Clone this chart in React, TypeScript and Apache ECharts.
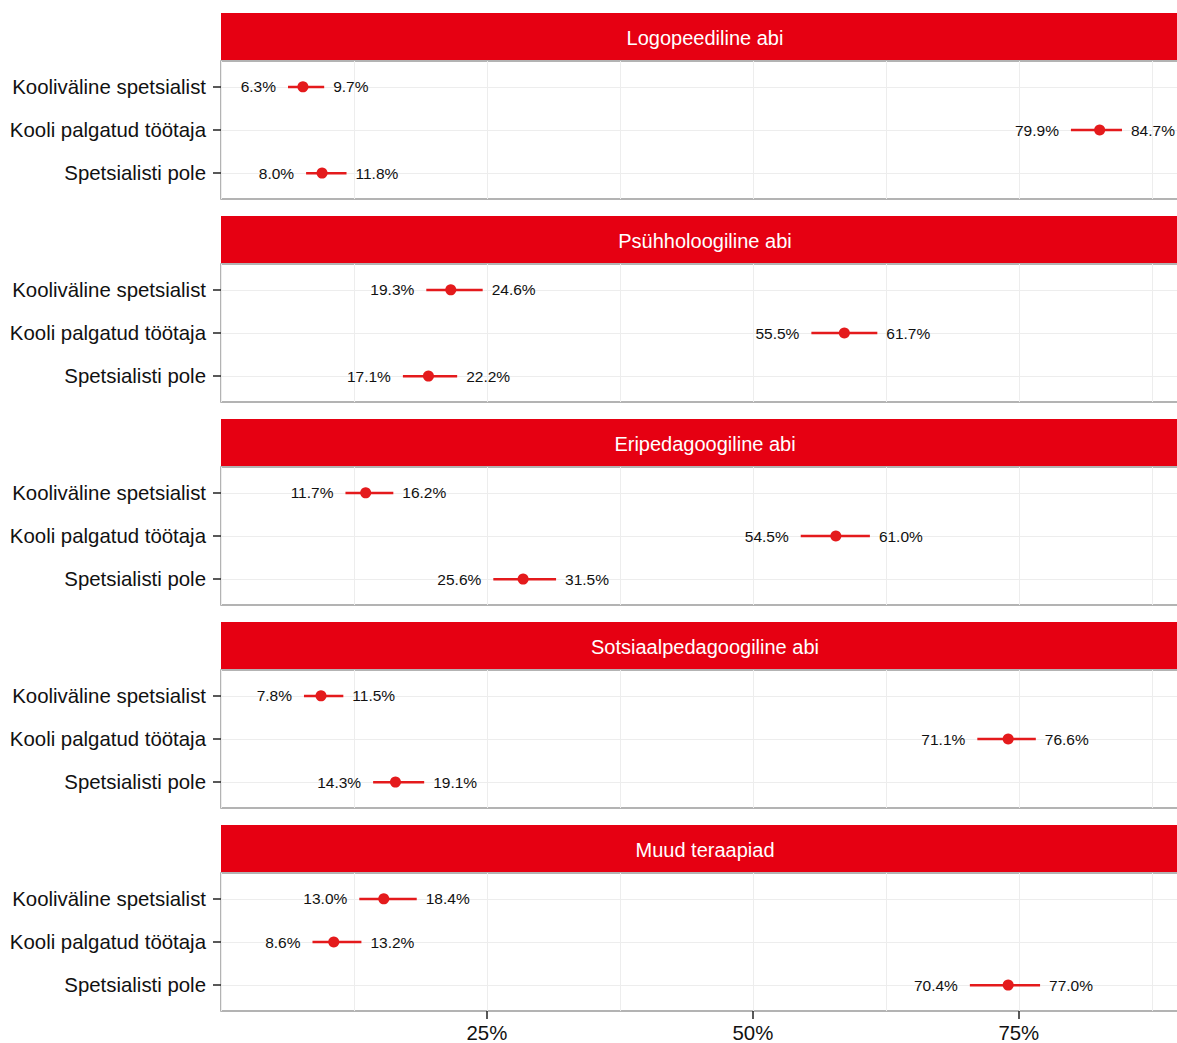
import React, { useEffect, useRef } from "react";
import * as echarts from "echarts";

const PANELS = [
  "Logopeediline abi",
  "Psühholoogiline abi",
  "Eripedagoogiline abi",
  "Sotsiaalpedagoogiline abi",
  "Muud teraapiad",
];
const CATEGORIES = ["Kooliväline spetsialist", "Kooli palgatud töötaja", "Spetsialisti pole"];
const LOWER = [
  [6.3, 79.9, 8.0],
  [19.3, 55.5, 17.1],
  [11.7, 54.5, 25.6],
  [7.8, 71.1, 14.3],
  [13.0, 8.6, 70.4],
];
const UPPER = [
  [9.7, 84.7, 11.8],
  [24.6, 61.7, 22.2],
  [16.2, 61.0, 31.5],
  [11.5, 76.6, 19.1],
  [18.4, 13.2, 77.0],
];
const ESTIMATE = [
  [7.7, 82.6, 9.5],
  [21.6, 58.6, 19.5],
  [13.6, 57.8, 28.4],
  [9.4, 74.0, 16.4],
  [15.3, 10.6, 74.0],
];
const X_TICKS = [25, 50, 75];

const RED = "#E41A1C";
const STRIP = "#E60012";
const FONT = "'Liberation Sans', Arial, sans-serif";
const GRID_LEFT = 221;
const GRID_WIDTH = 968;
const STRIP_TOP = 13;
const STRIP_H = 47;
const BODY_TOP = 61;
const BODY_H = 138;
const STEP = 203;
const X_MAX = 91;

export default function App() {
  const ref = useRef<HTMLDivElement>(null);
  useEffect(() => {
    document.body.style.margin = "0";
    const chart = echarts.init(ref.current!, null, { renderer: "svg" });
    const grid: any[] = [];
    const xAxis: any[] = [];
    const yAxis: any[] = [];
    const series: any[] = [];
    const graphic: any[] = [];
    PANELS.forEach((name, i) => {
      grid.push({
        left: GRID_LEFT,
        top: BODY_TOP + STEP * i,
        width: GRID_WIDTH,
        height: BODY_H,
        outerBoundsMode: "none",
        containLabel: false,
        show: true,
        borderColor: "#9a9a9a",
        borderWidth: 1.5,
        backgroundColor: "#fff",
      });
      xAxis.push({
        type: "value",
        gridIndex: i,
        min: 0,
        max: X_MAX,
        interval: 12.5,
        axisLine: { show: false },
        axisTick: { show: false },
        axisLabel: { show: false },
        splitLine: { show: true, lineStyle: { color: "#EDEDED", width: 1 } },
      });
      yAxis.push({
        type: "value",
        gridIndex: i,
        inverse: true,
        min: 0.4,
        max: 3.6,
        axisLine: { show: false },
        axisTick: {
          show: true,
          customValues: [1, 2, 3],
          length: 8,
          lineStyle: { color: "#222", width: 1.5 },
        },
        axisLabel: {
          customValues: [1, 2, 3],
          formatter: (v: number) => CATEGORIES[Math.round(v) - 1] ?? "",
          fontSize: 20.4,
          color: "#111",
          fontFamily: FONT,
          margin: 15,
        },
        splitLine: { show: true, lineStyle: { color: "#EDEDED", width: 1 } },
      });
      const errData = CATEGORIES.map((_, j) => [LOWER[i][j], UPPER[i][j], j + 1]);
      series.push({
        type: "custom",
        xAxisIndex: i,
        yAxisIndex: i,
        data: errData,
        encode: { x: [0, 1], y: 2 },
        clip: false,
        z: 3,
        renderItem: (params: any, api: any) => {
          const lo = api.value(0);
          const hi = api.value(1);
          const y = api.value(2);
          const p1 = api.coord([lo, y]);
          const p2 = api.coord([hi, y]);
          return {
            type: "group",
            children: [
              {
                type: "line",
                shape: { x1: p1[0], y1: p1[1], x2: p2[0], y2: p2[1] },
                style: { stroke: RED, lineWidth: 2.5 },
              },
              {
                type: "text",
                x: p1[0] - 12,
                y: p1[1],
                style: {
                  text: lo.toFixed(1) + "%",
                  align: "right",
                  verticalAlign: "middle",
                  fontSize: 15.5,
                  fontFamily: FONT,
                  fill: "#111",
                },
              },
              {
                type: "text",
                x: p2[0] + 9,
                y: p2[1],
                style: {
                  text: hi.toFixed(1) + "%",
                  align: "left",
                  verticalAlign: "middle",
                  fontSize: 15.5,
                  fontFamily: FONT,
                  fill: "#111",
                },
              },
            ],
          };
        },
      });
      series.push({
        type: "scatter",
        xAxisIndex: i,
        yAxisIndex: i,
        data: CATEGORIES.map((_, j) => [ESTIMATE[i][j], j + 1]),
        symbol: "circle",
        symbolSize: 11,
        itemStyle: { color: RED, opacity: 1 },
        z: 4,
      });
      graphic.push({
        type: "rect",
        shape: { x: GRID_LEFT, y: STRIP_TOP + STEP * i, width: GRID_WIDTH, height: STRIP_H },
        style: { fill: STRIP },
        z: 10,
      });
      graphic.push({
        type: "text",
        x: GRID_LEFT + GRID_WIDTH / 2,
        y: STRIP_TOP + STEP * i + STRIP_H / 2 + 1,
        style: {
          text: name,
          align: "center",
          verticalAlign: "middle",
          fontSize: 20,
          fontFamily: FONT,
          fill: "#fff",
        },
        z: 11,
      });
    });
    xAxis.push({
      type: "value",
      gridIndex: PANELS.length - 1,
      min: 0,
      max: X_MAX,
      interval: 25,
      position: "bottom",
      axisLine: { show: false },
      axisTick: {
        show: true,
        customValues: X_TICKS,
        length: 8,
        lineStyle: { color: "#222", width: 1.5 },
      },
      axisLabel: {
        customValues: X_TICKS,
        formatter: (v: number) => v + "%",
        fontSize: 20.4,
        color: "#111",
        fontFamily: FONT,
        margin: 12,
      },
      splitLine: { show: false },
    });
    chart.setOption({
      animation: false,
      backgroundColor: "#fff",
      grid,
      xAxis,
      yAxis,
      series,
      graphic,
    });
    return () => chart.dispose();
  }, []);
  return <div ref={ref} style={{ width: 1177, height: 1043 }} />;
}
